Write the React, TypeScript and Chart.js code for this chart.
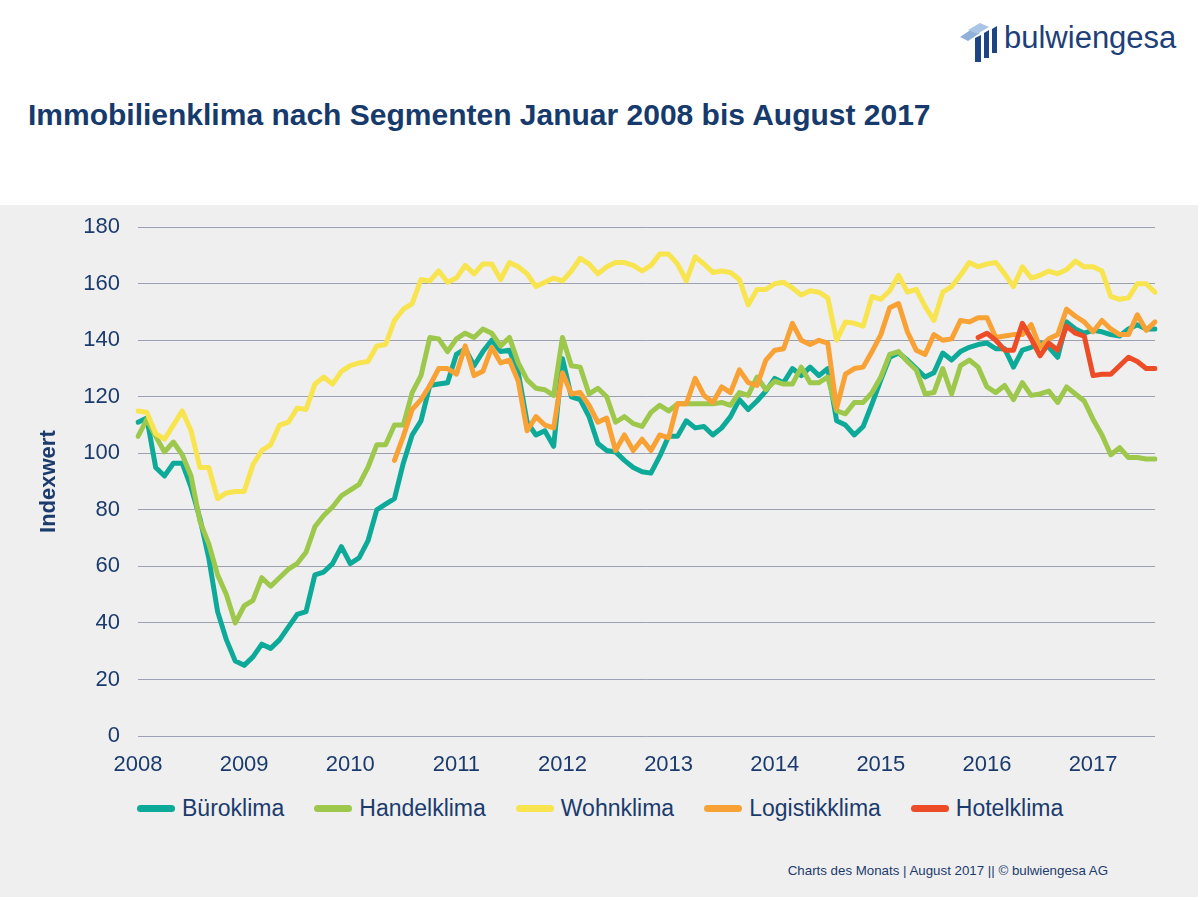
import React, { useEffect, useRef } from "react";
import { Chart, registerables } from "chart.js";

Chart.register(...registerables);

const years = ["2008", "2009", "2010", "2011", "2012", "2013", "2014", "2015", "2016", "2017"];
const monthsInLastYear = 8; // Januar 2008 bis August 2017
const yTicks = [0, 20, 40, 60, 80, 100, 120, 140, 160, 180];

const seriesNames = ["Büroklima", "Handelklima", "Wohnklima", "Logistikklima", "Hotelklima"];
const seriesColors = ["#0eaa99", "#9dc84b", "#f8e44e", "#f8a135", "#ec4c26"];

const bueroklima = [
  111, 112.5, 95, 92, 96.5, 96.5, 88, 77, 63, 44, 34, 26.5,
  25, 28, 32.5, 31, 34, 38.5, 43, 44, 57, 58, 61, 67,
  61, 63, 69, 80, 82, 84, 96.5, 106.5, 111.5, 124, 124.5, 125,
  135, 137, 131, 136, 140, 136, 136.5, 128.5, 111, 106.5, 108, 102.5,
  133.5, 120, 119, 113, 103.5, 101, 100.5, 97.5, 95, 93.5, 93, 99,
  106, 106, 111.5, 109, 109.5, 106.5, 109, 113, 119, 115.5, 118.5, 122,
  126.5, 125, 130, 127.5, 130.5, 127.5, 130, 111.5, 110, 106.5, 109.5, 117.5,
  126, 134, 135.5, 133, 130, 127, 128.5, 135.5, 133, 136, 137.5, 138.5,
  139, 137, 137, 130.5, 136.5, 137.5, 139, 137.5, 134, 146.5, 144, 142.5,
  143.5, 143, 142, 141.5, 144, 145.5, 144, 144,
];

const handelklima = [
  106, 112, 106, 100.5, 104, 99.5, 92, 76, 68, 57, 50, 40,
  46, 48, 56, 53, 56, 59, 61, 65, 74, 78, 81, 85,
  87, 89, 95, 103, 103, 110, 110, 121.5, 127.5, 141, 140.5, 136,
  140.5, 142.5, 141, 144, 142.5, 138, 141, 132, 126, 123, 122.5, 120.5,
  141, 131, 130.5, 121, 123, 120, 111, 113, 110.5, 109.5, 114.5, 117,
  115, 117.5, 117.5, 117.5, 117.5, 117.5, 118, 117, 121.5, 120.5, 127, 122.5,
  125.5, 124.5, 124.5, 130.5, 125, 125, 127, 115, 114, 118, 118, 121.5,
  127, 135, 136, 132.5, 129.5, 121, 121.5, 130, 121, 131, 133, 130.5,
  123.5, 121.5, 124, 119, 125, 120.5, 121, 122, 118, 123.5, 121, 118.5,
  112, 106.5, 99.5, 102, 98.5, 98.5, 98, 98,
];

const wohnklima = [
  115, 114.5, 107, 105, 110, 115, 108, 95, 95, 84, 86, 86.5,
  86.5, 96, 101, 103, 110, 111, 116, 115.5, 124.5, 127, 124.5, 129,
  131, 132, 132.5, 138, 138.5, 147, 151, 153, 161.5, 161, 164.5, 160.5,
  162, 166.5, 163.5, 167, 167, 161.5, 167.5, 166, 163.5, 159, 160.5, 162,
  161, 164.5, 169, 167, 163.5, 166, 167.5, 167.5, 166.5, 164.5, 166.5, 170.5,
  170.5, 167, 161, 169.5, 167, 164, 164.5, 164, 161.5, 152.5, 158, 158,
  160, 160.5, 158.5, 156, 157.5, 157, 155, 140, 146.5, 146, 145, 155.5,
  154.5, 157.5, 163, 157, 158, 152, 147, 157, 159, 163, 167.5, 166,
  167, 167.5, 163.5, 159, 166, 162, 163, 164.5, 163.5, 165, 168, 166,
  166, 164.5, 155.5, 154.5, 155, 160, 160, 157,
];

const logistikklima = [
  null, null, null, null, null, null, null, null, null, null, null, null,
  null, null, null, null, null, null, null, null, null, null, null, null,
  null, null, null, null, null, 97.5, 106, 115.5, 119, 124, 130, 130,
  128, 138, 127.5, 129, 137.5, 132, 133, 125.5, 108, 113, 110, 109,
  128.5, 121, 121.5, 117, 111, 112.5, 101, 106.5, 101, 105, 101, 106.5,
  105.5, 117.5, 117.5, 126.5, 120.5, 118, 123.5, 121.5, 129.5, 125, 124, 133,
  136.5, 137, 146, 140, 138.5, 140, 139, 116, 128, 130, 130.5, 136,
  142, 151.5, 153, 143, 136.5, 135, 142, 140, 140.5, 147, 146.5, 148,
  148, 141, 141.5, 142, 142, 145.5, 137.5, 140.5, 142, 151, 148.5, 146.5,
  143, 147, 144, 142, 142, 149, 143.5, 146.5,
];

const hotelklima = [
  null, null, null, null, null, null, null, null, null, null, null, null,
  null, null, null, null, null, null, null, null, null, null, null, null,
  null, null, null, null, null, null, null, null, null, null, null, null,
  null, null, null, null, null, null, null, null, null, null, null, null,
  null, null, null, null, null, null, null, null, null, null, null, null,
  null, null, null, null, null, null, null, null, null, null, null, null,
  null, null, null, null, null, null, null, null, null, null, null, null,
  null, null, null, null, null, null, null, null, null, null, null, 141,
  142.5, 140, 136.5, 136.5, 146, 140.5, 134.5, 139, 136.5, 145, 142.5, 141.5,
  127.5, 128, 128, 131, 134, 132.5, 130, 130,
];

const seriesValues = [bueroklima, handelklima, wohnklima, logistikklima, hotelklima];

const monthLabels: string[] = [];
years.forEach((y, yi) => {
  const n = yi === years.length - 1 ? monthsInLastYear : 12;
  for (let m = 1; m <= n; m++) monthLabels.push(`${y}-${String(m).padStart(2, "0")}`);
});

const NAVY = "#1b3b6d";
const FONT = "'Liberation Sans', Arial, Helvetica, sans-serif";

export default function App() {
  const canvasRef = useRef<HTMLCanvasElement | null>(null);

  useEffect(() => {
    if (!canvasRef.current) return;
    const chart = new Chart(canvasRef.current, {
      type: "line",
      data: {
        labels: monthLabels,
        datasets: seriesNames.map((name, i) => ({
          label: name,
          data: seriesValues[i],
          borderColor: seriesColors[i],
          backgroundColor: seriesColors[i],
          borderWidth: 5,
          pointRadius: 0,
          tension: 0,
          borderJoinStyle: "round" as const,
          borderCapStyle: "round" as const,
          fill: false,
          order: seriesNames.length - i,
        })),
      },
      options: {
        responsive: false,
        animation: false,
        layout: { padding: { left: 0, right: 45, top: 0, bottom: 0 } },
        plugins: {
          legend: { display: false },
          title: { display: false },
          tooltip: { enabled: false },
        },
        scales: {
          x: {
            type: "category",
            offset: false,
            grid: { display: false, drawTicks: false },
            border: { display: false },
            ticks: {
              autoSkip: false,
              maxRotation: 0,
              minRotation: 0,
              padding: 16,
              color: NAVY,
              font: { family: FONT, size: 22 },
              callback: (_v: any, index: number) =>
                index % 12 === 0 ? years[index / 12] : "",
            },
            afterFit: (s: any) => {
              s.height = 49;
            },
          },
          y: {
            min: yTicks[0],
            max: yTicks[yTicks.length - 1],
            grid: { color: "#9ba1b0", lineWidth: 1, drawTicks: false },
            border: { display: false },
            ticks: {
              stepSize: 20,
              padding: 18,
              color: NAVY,
              font: { family: FONT, size: 22 },
            },
            title: {
              display: true,
              text: "Indexwert",
              color: NAVY,
              font: { family: FONT, size: 22, weight: "bold" },
              padding: { top: 36, bottom: 0 },
            },
            afterFit: (s: any) => {
              s.width = 138;
            },
          },
        },
      },
    });
    return () => chart.destroy();
  }, []);

  return (
    <div
      style={{
        position: "absolute",
        left: 0,
        top: 0,
        width: 1200,
        height: 900,
        background: "#ffffff",
        fontFamily: FONT,
        color: NAVY,
        overflow: "hidden",
      }}
    >
      {/* logo */}
      <svg
        width={44}
        height={44}
        viewBox="0 0 44 44"
        style={{ position: "absolute", left: 956, top: 20 }}
      >
        <polygon points="4,17 16,9 24,13 12,21" fill="#8fb1d8" />
        <polygon points="12,10 24,3 33,7 21,14" fill="#a9c4e4" />
        <polygon points="19,18 25,15 25,42 19,42" fill="#1d4483" />
        <polygon points="28,13 33,10 33,38 28,38" fill="#1d4483" />
        <polygon points="36,9 41,6 41,33 36,33" fill="#1d4483" />
      </svg>
      <div
        style={{
          position: "absolute",
          left: 1004,
          top: 22,
          fontSize: 31,
          lineHeight: "31px",
          color: "#1d4079",
        }}
      >
        bulwiengesa
      </div>

      {/* title */}
      <div
        style={{
          position: "absolute",
          left: 28,
          top: 100,
          fontSize: 30,
          lineHeight: "30px",
          fontWeight: "bold",
          color: "#163a6b",
          whiteSpace: "nowrap",
        }}
      >
        Immobilienklima nach Segmenten Januar 2008 bis August 2017
      </div>

      {/* grey panel */}
      <div
        style={{
          position: "absolute",
          left: 0,
          top: 205,
          width: 1198,
          height: 692,
          background: "#efefef",
        }}
      />

      <canvas
        ref={canvasRef}
        width={1200}
        height={589}
        style={{ position: "absolute", left: 0, top: 196, width: 1200, height: 589 }}
      />

      {/* legend */}
      <div
        style={{
          position: "absolute",
          left: 137,
          top: 795,
          display: "flex",
          alignItems: "center",
          height: 26,
        }}
      >
        {seriesNames.map((name, i) => (
          <div key={name} style={{ display: "flex", alignItems: "center", marginRight: 30 }}>
            <div
              style={{
                width: 38,
                height: 7,
                borderRadius: 4,
                background: seriesColors[i],
                marginRight: 7,
              }}
            />
            <span style={{ fontSize: 23, lineHeight: "26px", color: NAVY, whiteSpace: "nowrap" }}>
              {name}
            </span>
          </div>
        ))}
      </div>

      {/* footer */}
      <div
        style={{
          position: "absolute",
          left: 0,
          width: 1108,
          top: 864,
          textAlign: "right",
          fontSize: 13.3,
          lineHeight: "14px",
          color: NAVY,
          whiteSpace: "nowrap",
        }}
      >
        Charts des Monats | August 2017 || © bulwiengesa AG
      </div>
    </div>
  );
}
